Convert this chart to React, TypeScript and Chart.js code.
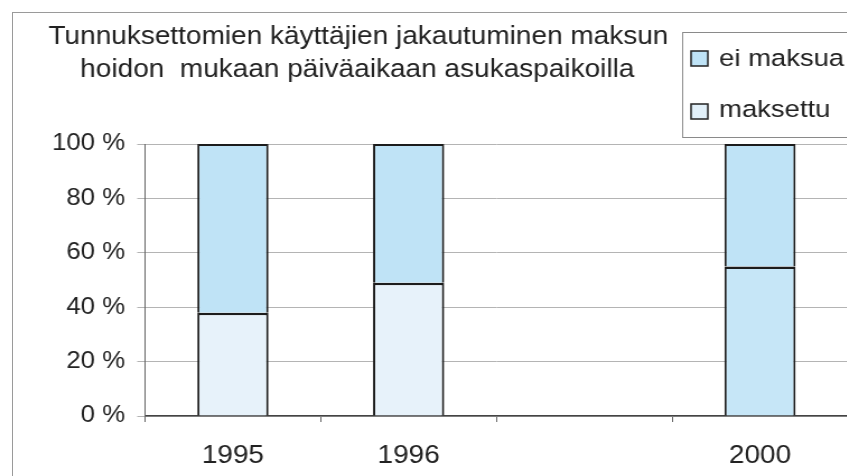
import React, { useEffect, useRef } from 'react';
import { Chart, registerables } from 'chart.js';

Chart.register(...registerables);

const categories = ['1995', '1996', '', '2000'];
const maksettu = [38, 49, null, 55];
const eiMaksua = [62, 51, null, 45];
const yMin = 0;
const yMax = 100;
const yStep = 20;
const titleLines = [
  'Tunnuksettomien käyttäjien jakautuminen maksun',
  'hoidon  mukaan päiväaikaan asukaspaikoilla',
];
const seriesNames = ['ei maksua', 'maksettu'];

const SX = 1.12;
const W = 790;
const H = 476;
const FONT = '"Liberation Sans", Arial, Helvetica, sans-serif';

const colEi = '#bfe3f6';
const colMaks = ['#e7f2fa', '#e7f2fa', '#e7f2fa', '#c6e6f7'];
const colMaksLegend = '#e2f0f9';

const overlay = {
  id: 'overlay',
  afterDraw(chart: any) {
    const ctx = chart.ctx as CanvasRenderingContext2D;
    ctx.save();
    // title
    ctx.fillStyle = '#222';
    ctx.font = `25px ${FONT}`;
    ctx.textAlign = 'center';
    ctx.textBaseline = 'alphabetic';
    ctx.fillText(titleLines[0], 320, 44);
    ctx.fillText(titleLines[1], 319, 77);
    // legend box
    ctx.fillStyle = '#fff';
    ctx.fillRect(609, 32, 300, 105);
    ctx.strokeStyle = '#8a8a8a';
    ctx.lineWidth = 1;
    ctx.strokeRect(609.5, 32.5, 300, 105);
    const rows = [
      { name: seriesNames[0], color: colEi, y: 51, base: 66 },
      { name: seriesNames[1], color: colMaksLegend, y: 104, base: 117 },
    ];
    rows.forEach((r) => {
      ctx.fillStyle = r.color;
      ctx.fillRect(617, r.y, 15, 15);
      ctx.strokeStyle = '#222';
      ctx.lineWidth = 1.5;
      ctx.strokeRect(617, r.y, 15, 15);
      ctx.fillStyle = '#222';
      ctx.font = `24.5px ${FONT}`;
      ctx.textAlign = 'left';
      ctx.fillText(r.name, 642, r.base);
    });
    ctx.restore();
  },
};

export default function App() {
  const ref = useRef<HTMLCanvasElement>(null);
  useEffect(() => {
    const chart = new Chart(ref.current as HTMLCanvasElement, {
      type: 'bar',
      data: {
        labels: categories,
        datasets: [
          {
            label: seriesNames[1],
            data: maksettu,
            backgroundColor: colMaks,
            borderColor: '#1c1c1c',
            borderWidth: { top: 2.5, left: 2, right: 2, bottom: 0 },
            borderSkipped: false,
            categoryPercentage: 1,
            barPercentage: 0.405,
          },
          {
            label: seriesNames[0],
            data: eiMaksua,
            backgroundColor: colEi,
            borderColor: '#1c1c1c',
            borderWidth: { top: 2, left: 2, right: 2, bottom: 0 },
            borderSkipped: false,
            categoryPercentage: 1,
            barPercentage: 0.405,
          },
        ],
      },
      options: {
        responsive: false,
        animation: false,
        layout: { padding: { top: 144, left: 0, right: 33, bottom: 0 } },
        plugins: {
          legend: { display: false },
          title: { display: false },
          tooltip: { enabled: false },
        },
        scales: {
          x: {
            stacked: true,
            offset: true,
            grid: {
              display: true,
              drawOnChartArea: false,
              offset: true,
              tickLength: 6,
              color: '#666',
            },
            border: { display: true, color: '#444', width: 1.5 },
            ticks: {
              color: '#222',
              font: { family: FONT, size: 25 },
              padding: 19,
              maxRotation: 0,
              autoSkip: false,
            },
            afterFit: (s: any) => {
              s.height = 60;
            },
          },
          y: {
            stacked: true,
            min: yMin,
            max: yMax,
            ticks: {
              stepSize: yStep,
              color: '#222',
              font: { family: FONT, size: 23 },
              padding: 10.8,
              callback: (v: any) => `${v} %`,
            },
            grid: {
              color: '#b4b4b4',
              lineWidth: 1,
              tickLength: 7,
            },
            border: { display: true, color: '#666', width: 1 },
            afterFit: (s: any) => {
              s.width = 129.5;
            },
          },
        },
      },
      plugins: [overlay],
    } as any);
    return () => chart.destroy();
  }, []);

  return (
    <div
      style={{
        position: 'fixed',
        left: 0,
        top: 0,
        width: 847,
        height: 476,
        overflow: 'hidden',
        background: '#fff',
      }}
    >
      <div
        style={{
          position: 'absolute',
          left: 12,
          top: 12,
          width: 1000,
          height: 1000,
          borderTop: '1px solid #9a9a9a',
          borderLeft: '1px solid #9a9a9a',
        }}
      />
      <div
        style={{
          position: 'absolute',
          left: 0,
          top: 0,
          width: W,
          height: H,
          transform: `scaleX(${SX})`,
          transformOrigin: '0 0',
        }}
      >
        <canvas ref={ref} width={W} height={H} style={{ display: 'block', width: W, height: H }} />
      </div>
    </div>
  );
}
